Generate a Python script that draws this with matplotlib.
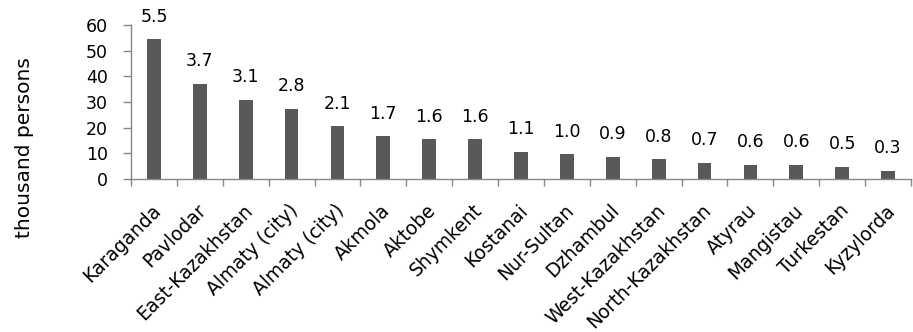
import matplotlib
matplotlib.use("Agg")
import matplotlib.pyplot as plt
import matplotlib.transforms as mtransforms
import numpy as np

regions = ["Karaganda", "Pavlodar", "East-Kazakhstan", "Almaty (city)", "Almaty (city)",
           "Akmola", "Aktobe", "Shymkent", "Kostanai", "Nur-Sultan", "Dzhambul",
           "West-Kazakhstan", "North-Kazakhstan", "Atyrau", "Mangistau", "Turkestan", "Kyzylorda"]
values = [54.5, 37.2, 30.9, 27.4, 20.7, 16.7, 15.6, 15.4, 10.6, 9.6, 8.7, 7.7, 6.3, 5.6, 5.6, 4.8, 3.2]
labels = ["5.5", "3.7", "3.1", "2.8", "2.1", "1.7", "1.6", "1.6", "1.1", "1.0", "0.9",
          "0.8", "0.7", "0.6", "0.6", "0.5", "0.3"]
yticks = [0, 10, 20, 30, 40, 50, 60]

plt.rcParams['font.family'] = ['DejaVu Sans']

fig = plt.figure(figsize=(9.13, 3.32), dpi=100)
ax = fig.add_axes([131/913, 1 - 179/332, (911 - 131)/913, (179 - 25)/332])

x = np.arange(len(regions))
ax.bar(x, values, width=0.30, color='#595959', zorder=2)

for xi, v, lab in zip(x, values, labels):
    ax.annotate(lab, (xi, v), xytext=(0, 12.5), textcoords='offset points',
                ha='center', va='baseline', fontsize=12.5, color='black')

ax.set_xlim(-0.5, len(regions) - 0.5)
ax.set_ylim(0, 60)
ax.set_yticks(yticks)
ax.set_yticklabels([str(t) for t in yticks], fontsize=12.5)

ax.set_xticks(x)
ax.set_xticklabels(regions, rotation=45, ha='right', rotation_mode='anchor', fontsize=13.4)
ax.tick_params(axis='x', which='major', length=0, pad=15)
offset = mtransforms.ScaledTranslation(-3/100, -1/100, fig.dpi_scale_trans)
for lbl in ax.get_xticklabels():
    lbl.set_transform(lbl.get_transform() + offset)
ax.set_xticks(np.arange(-0.5, len(regions), 1.0), minor=True)
ax.tick_params(axis='x', which='minor', length=5.2, width=1.0, color='#868686', direction='out')
ax.tick_params(axis='y', which='major', length=5.8, width=1.0, color='#868686', direction='out', pad=11)

for s in ['top', 'right']:
    ax.spines[s].set_visible(False)
for s in ['left', 'bottom']:
    ax.spines[s].set_color('#868686')
    ax.spines[s].set_linewidth(1.0)

fig.text(25/913, 1 - 148/332, "thousand persons", rotation=90, ha='center', va='center', fontsize=14.5)

fig.savefig("out.png", dpi=100)
